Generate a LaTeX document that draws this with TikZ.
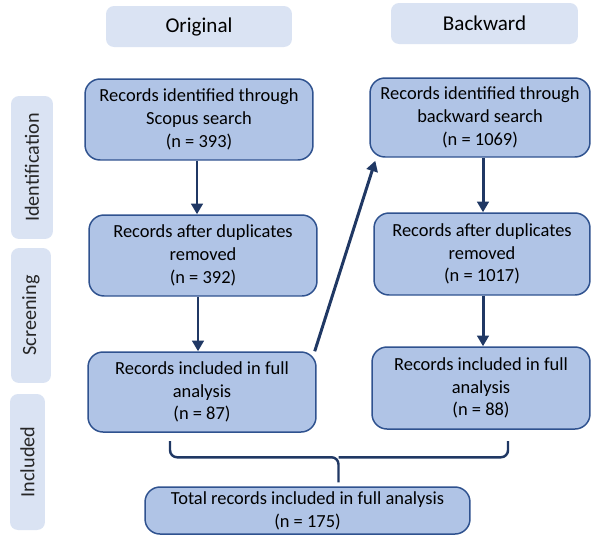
\documentclass[tikz,border=0pt]{standalone}
\usepackage{fontspec}
\setmainfont{Carlito}
\usetikzlibrary{arrows.meta,calc}
\definecolor{headfill}{HTML}{DAE3F3}
\definecolor{boxfill}{HTML}{B0C4E6}
\definecolor{boxline}{HTML}{2F528F}
\definecolor{arrowcol}{HTML}{203864}

\begin{document}
\begin{tikzpicture}[x=0.02cm,y=-0.02cm,
  head/.style={fill=headfill,rounded corners=0.16cm,inner sep=0pt,
    font=\fontsize{12}{14}\selectfont},
  stage/.style={head,rotate=90,font=\fontsize{11.5}{14}\selectfont,text=black!85},
  rec/.style={draw=boxline,fill=boxfill,line width=0.85pt,rounded corners=0.3cm,
    align=center,inner sep=0pt,font=\fontsize{10.5}{13}\selectfont},
  flow/.style={draw=arrowcol,line width=1.7pt,-{Triangle[length=6pt,width=6.5pt]}}]
\useasboundingbox (0,0) rectangle (591,535);
%----------------headers----------
\node[head,minimum width=3.72cm,minimum height=0.82cm] (orig) at (199,26.5){Original};
\node[head,minimum width=3.74cm,minimum height=0.82cm] (back) at (484.5,23.5){Backward};
%----------------stages----------
\node[stage,minimum width=2.86cm,minimum height=0.84cm] (ident) at (32,167.5){Identification};
\node[stage,minimum width=2.70cm,minimum height=0.80cm] (screen) at (31,315.5){Screening};
\node[stage,minimum width=2.72cm,minimum height=0.70cm] (incl) at (27.5,462){Included};
%----------------original column----------
\node[rec,minimum width=4.56cm,minimum height=1.62cm] (a1) at (199,119.5){Records identified through\\Scopus search\\(n = 393)};
\node[rec,minimum width=4.56cm,minimum height=1.62cm] (a2) at (203,255.5){Records after duplicates\\removed\\(n = 392)};
\node[rec,minimum width=4.56cm,minimum height=1.60cm] (a3) at (202,392){Records included in full\\analysis\\(n = 87)};
%----------------backward column----------
\node[rec,minimum width=4.40cm,minimum height=1.58cm] (b1) at (480,117.5){Records identified through\\backward search\\(n = 1069)};
\node[rec,minimum width=4.32cm,minimum height=1.64cm] (b2) at (482,254){Records after duplicates\\removed\\(n = 1017)};
\node[rec,minimum width=4.36cm,minimum height=1.64cm,yshift=0.06cm] (b3) at (481,391){Records included in full\\analysis\\(n = 88)};
%----------------total----------
\node[rec,minimum width=6.50cm,minimum height=0.94cm] (tot) at (307.5,510.5){Total records included in full analysis\\(n = 175)};
%----------------arrows----------
\draw[flow] ($(a1.south)+(-2,0)$) -- ($(a1.south |- a2.north)+(-2,0)$);
\draw[flow] ($(a2.south)+(-5,0)$) -- ($(a2.south |- a3.north)+(-5,0)$);
\draw[flow] ($(b1.south)+(3,0)$) -- ($(b1.south |- b2.north)+(3,0)$);
\draw[flow] ($(b2.south)+(1,0)$) -- ($(b2.south |- b3.north)+(1,0)$);
\draw[flow] ($(a3.north east)+(-2,0)$) -- ($(b1.south west)+(6,3)$);
%----------------bracket----------
\coordinate (tip) at ($(tot.north)+(31,-4)$);
\draw[arrowcol,line width=1.4pt,rounded corners=4pt]
  (170,441) |- ($(tip)+(0,-25)$) -- (tip)
  (508,441) |- ($(tip)+(0,-25)$);
\end{tikzpicture}
\end{document}
